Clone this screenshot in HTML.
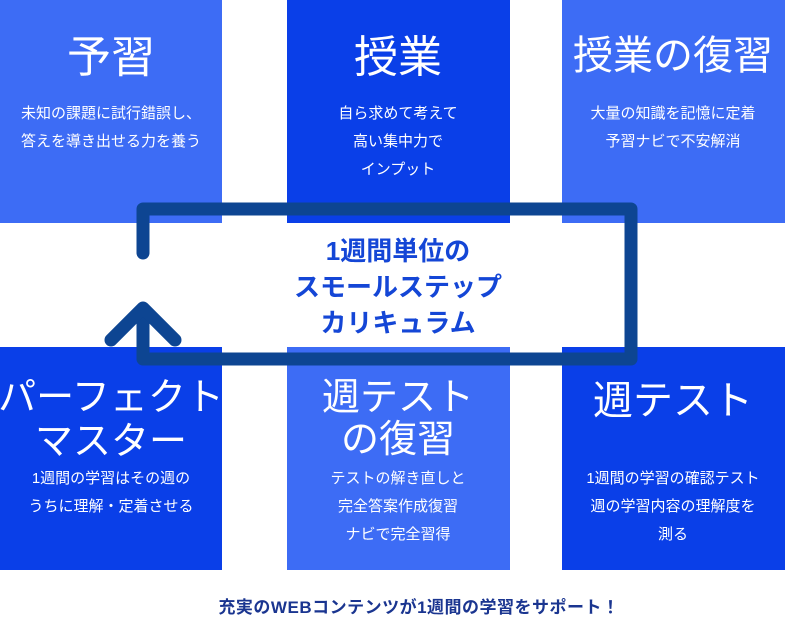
<!DOCTYPE html>
<html><head><meta charset="utf-8"><style>
html,body{margin:0;padding:0;background:#fff;}
svg{display:block;}
text{font-family:"Liberation Sans","Noto Sans CJK JP",sans-serif;}
</style></head><body>
<svg width="785" height="632" viewBox="0 0 785 632" xmlns="http://www.w3.org/2000/svg">
<rect x="0" y="0" width="222" height="223" fill="#3d6cf5"/>
<rect x="287" y="0" width="223" height="223" fill="#0a3fe8"/>
<rect x="562" y="0" width="223" height="223" fill="#3d6cf5"/>
<rect x="0" y="347" width="222" height="223" fill="#0a3fe8"/>
<rect x="287" y="347" width="223" height="223" fill="#3d6cf5"/>
<rect x="562" y="347" width="223" height="223" fill="#0a3fe8"/>
<g fill="#fff" text-anchor="middle">
<text x="111" y="72" font-size="44">予習</text>
<text x="111" y="118" font-size="15">未知の課題に試行錯誤し、</text>
<text x="111" y="146" font-size="15">答えを導き出せる力を養う</text>
<text x="398" y="72" font-size="44">授業</text>
<text x="398" y="118" font-size="15">自ら求めて考えて</text>
<text x="398" y="146" font-size="15">高い集中力で</text>
<text x="398" y="174" font-size="15">インプット</text>
<text x="673" y="69" font-size="40">授業の復習</text>
<text x="673" y="118" font-size="15">大量の知識を記憶に定着</text>
<text x="673" y="146" font-size="15">予習ナビで不安解消</text>
<text x="111" y="410" font-size="38">パーフェクト</text>
<text x="111" y="454" font-size="38">マスター</text>
<text x="111" y="483" font-size="15">1週間の学習はその週の</text>
<text x="111" y="511" font-size="15">うちに理解・定着させる</text>
<text x="398" y="410" font-size="38">週テスト</text>
<text x="398" y="452" font-size="38">の復習</text>
<text x="398" y="483" font-size="15">テストの解き直しと</text>
<text x="398" y="511" font-size="15">完全答案作成復習</text>
<text x="398" y="539" font-size="15">ナビで完全習得</text>
<text x="673" y="414" font-size="40">週テスト</text>
<text x="673" y="483" font-size="15">1週間の学習の確認テスト</text>
<text x="673" y="511" font-size="15">週の学習内容の理解度を</text>
<text x="673" y="539" font-size="15">測る</text>
</g>
<g stroke="#0d4592" stroke-width="13" fill="none" stroke-linecap="round" stroke-linejoin="round">
<path d="M143 253 V209 H631 V359 H143 V310"/>
<path d="M111 340 L143 308 L175 340"/>
</g>
<g fill="#1446d6" text-anchor="middle" font-weight="bold" font-size="26">
<text x="398" y="260">1週間単位の</text>
<text x="398" y="296">スモールステップ</text>
<text x="398" y="332">カリキュラム</text>
</g>
<text x="419" y="613" text-anchor="middle" font-size="17" font-weight="bold" letter-spacing="0.5" fill="#1a3590">充実のWEBコンテンツが1週間の学習をサポート！</text>
</svg>
</body></html>
